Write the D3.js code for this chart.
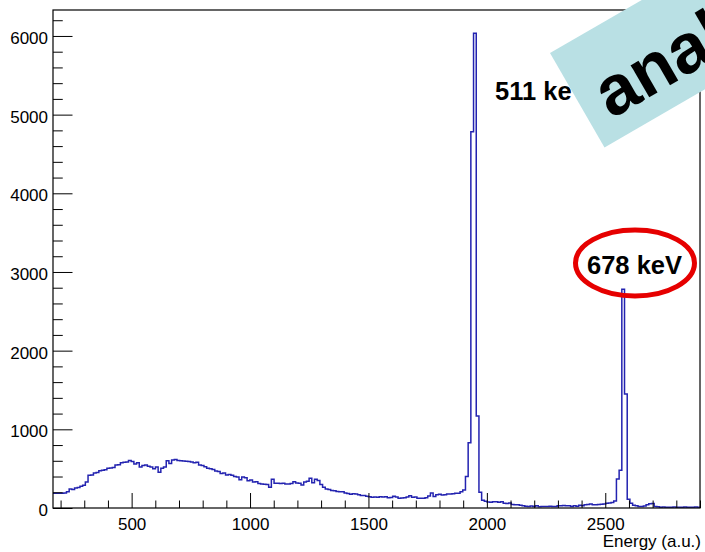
<!DOCTYPE html>
<html>
<head>
<meta charset="utf-8">
<script src="https://cdn.jsdelivr.net/npm/d3@7"></script>
<style>
  html, body { margin: 0; padding: 0; background: #fff; }
  svg { display: block; font-family: "Liberation Sans", Arial, Helvetica, sans-serif; }
</style>
</head>
<body>
<svg id="chart" width="705" height="552"></svg>
<script>
// Histogram binning (energy, arbitrary units)
const xMin = 168;
const xMax = 2900;
const nBins = 240;

// Counts per bin, left to right
const counts = [
  187, 187, 187, 187, 190, 208, 242, 235, 255, 262,
  275, 290, 330, 415, 420, 445, 450, 475, 480, 485,
  505, 510, 515, 545, 550, 575, 580, 585, 605, 590,
  560, 575, 520, 540, 545, 530, 520, 500, 520, 455,
  505, 520, 600, 565, 610, 615, 605, 600, 598, 595,
  590, 585, 575, 580, 545, 540, 525, 505, 500, 490,
  470, 465, 440, 445, 420, 425, 415, 400, 395, 360,
  395, 385, 345, 355, 330, 335, 310, 305, 301, 300,
  263, 364, 314, 314, 310, 314, 305, 305, 310, 335,
  318, 314, 292, 330, 340, 377, 322, 364, 350, 300,
  263, 240, 235, 222, 218, 210, 205, 205, 190, 185,
  175, 180, 178, 170, 160, 158, 150, 144, 136, 140,
  136, 144, 140, 144, 131, 135, 148, 140, 123, 127,
  131, 140, 155, 136, 140, 125, 123, 125, 130, 152,
  190, 145, 170, 175, 165, 168, 178, 178, 180, 186,
  186, 205, 230, 400, 830, 4783, 6034, 1170, 200, 100,
  85, 75, 72, 78, 80, 72, 80, 60, 58, 62,
  45, 40, 42, 35, 30, 22, 20, 25, 18, 30,
  15, 20, 18, 20, 22, 18, 20, 30, 28, 32,
  28, 30, 18, 28, 22, 35, 30, 40, 45, 50,
  40, 42, 45, 48, 52, 60, 62, 70, 90, 370,
  480, 2780, 1450, 110, 60, 35, 30, 20, 18, 25,
  40, 55, 58, 20, 15, 10, 12, 10, 8, 10,
  12, 10, 8, 10, 12, 10, 8, 10, 12, 10
];

// Axis settings
const yMax = 6330;
const xMajorTicks = [500, 1000, 1500, 2000, 2500];
const xMinorTicks = [200, 300, 400, 600, 700, 800, 900, 1100, 1200, 1300, 1400,
  1600, 1700, 1800, 1900, 2100, 2200, 2300, 2400, 2600, 2700, 2800, 2900];
const yMajorTicks = [0, 1000, 2000, 3000, 4000, 5000, 6000];
const yMinorTicks = [200, 400, 600, 800, 1200, 1400, 1600, 1800, 2200, 2400, 2600, 2800,
  3200, 3400, 3600, 3800, 4200, 4400, 4600, 4800, 5200, 5400, 5600, 5800, 6200];
const xTitle = "Energy (a.u.)";

// Annotations
const peakLabels = ["511 keV", "678 keV"];
const stampText = "analysis";

const svg = d3.select("#chart");
const frame = { left: 53, right: 700, top: 10, bottom: 508 };

const x = d3.scaleLinear().domain([xMin, xMax]).range([frame.left, frame.right]);
const y = d3.scaleLinear().domain([0, yMax]).range([frame.bottom, frame.top]);

svg.append("rect").attr("width", 705).attr("height", 552).attr("fill", "#fff");

// Histogram outline (step)
const binW = (xMax - xMin) / nBins;
const pts = counts.map((c, i) => [xMin + i * binW, c]);
pts.push([xMax, counts[counts.length - 1]]);
const line = d3.line().x(d => x(d[0])).y(d => y(d[1])).curve(d3.curveStepAfter);
svg.append("path")
  .attr("d", line(pts))
  .attr("fill", "none")
  .attr("stroke", "#2323b0")
  .attr("stroke-width", 1.5);

// Axes: ticks point inward
const axisStyle = g => {
  g.select(".domain").remove();
  g.selectAll("line").attr("stroke", "#000").attr("stroke-width", 1);
  g.selectAll("text").attr("fill", "#000").attr("font-size", 17)
    .attr("font-family", "'Liberation Sans', Arial, sans-serif");
};

svg.append("g").attr("transform", `translate(0,${frame.bottom})`)
  .call(d3.axisBottom(x).tickValues(xMajorTicks).tickSizeInner(-15).tickSizeOuter(0)
    .tickPadding(10).tickFormat(d3.format("d")))
  .call(axisStyle);
svg.append("g").attr("transform", `translate(0,${frame.bottom})`)
  .call(d3.axisBottom(x).tickValues(xMinorTicks).tickSizeInner(-7.5).tickSizeOuter(0).tickFormat(""))
  .call(axisStyle);

svg.append("g").attr("transform", `translate(${frame.left},0)`)
  .call(d3.axisLeft(y).tickValues(yMajorTicks).tickSizeInner(-19.5).tickSizeOuter(0)
    .tickPadding(5).tickFormat(d3.format("d")))
  .call(axisStyle)
  .call(g => g.selectAll("text").attr("dy", "0.45em"));
svg.append("g").attr("transform", `translate(${frame.left},0)`)
  .call(d3.axisLeft(y).tickValues(yMinorTicks).tickSizeInner(-9.75).tickSizeOuter(0).tickFormat(""))
  .call(axisStyle);

// Frame
svg.append("rect")
  .attr("x", frame.left).attr("y", frame.top)
  .attr("width", frame.right - frame.left).attr("height", frame.bottom - frame.top)
  .attr("fill", "none").attr("stroke", "#000").attr("stroke-width", 1.2);

// Axis title
svg.append("text")
  .attr("x", 701).attr("y", 547)
  .attr("text-anchor", "end")
  .attr("font-size", 17)
  .attr("fill", "#000")
  .text(xTitle);

// Peak labels
svg.append("text")
  .attr("x", 495).attr("y", 100)
  .attr("font-size", 25.5).attr("font-weight", "bold").attr("fill", "#000")
  .text(peakLabels[0]);

svg.append("text")
  .attr("x", 587).attr("y", 274)
  .attr("font-size", 25.5).attr("font-weight", "bold").attr("fill", "#000")
  .text(peakLabels[1]);

svg.append("ellipse")
  .attr("cx", 635).attr("cy", 263)
  .attr("rx", 59.5).attr("ry", 33)
  .attr("fill", "none").attr("stroke", "#e60000").attr("stroke-width", 5);

// Rotated stamp in the upper right
const stamp = svg.append("g").attr("transform", "translate(550,53) rotate(-30)");
stamp.append("rect")
  .attr("x", 0).attr("y", 0).attr("width", 340).attr("height", 109)
  .attr("fill", "#b9e0e4");
stamp.append("text")
  .attr("x", 20).attr("y", 88)
  .attr("font-size", 70).attr("font-weight", "bold").attr("fill", "#000")
  .text(stampText);
</script>
</body>
</html>
